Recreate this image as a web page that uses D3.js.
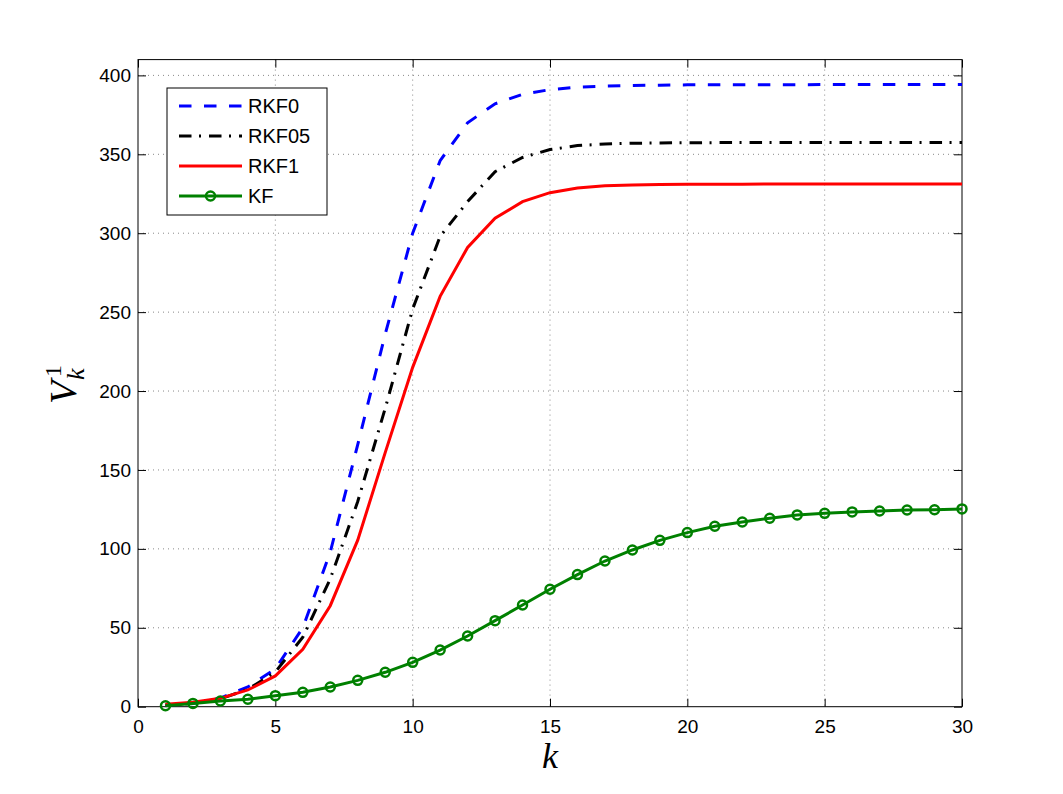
<!DOCTYPE html>
<html>
<head>
<meta charset="utf-8">
<script src="https://cdnjs.cloudflare.com/ajax/libs/d3/7.8.5/d3.min.js"></script>
<style>
  body { margin: 0; background: #fff; }
  svg { display: block; }
  .tick-label { font-family: "Liberation Sans", Arial, sans-serif; font-size: 19px; fill: #000; }
  .legend-text { font-family: "Liberation Sans", Arial, sans-serif; font-size: 20px; fill: #000; }
</style>
</head>
<body>
<svg id="chart"></svg>
<script>
// data
var steps = d3.range(1, 31);
var rkf0 = [1, 2, 5.5, 12.5, 24, 50, 98, 166, 236, 300, 346, 370, 382, 388, 391,
            392.5, 393.2, 393.6, 393.8, 394, 394, 394, 394.1, 394.1, 394.2, 394.2, 394.2, 394.2, 394.2, 394.2];
var rkf05 = [1, 2, 5, 11, 22, 44, 81, 130, 189, 252, 298, 320, 339, 348, 353,
             355.5, 356.5, 357, 357.2, 357.3, 357.4, 357.4, 357.4, 357.4, 357.4, 357.4, 357.4, 357.4, 357.4, 357.4];
var rkf1 = [1.5, 2.8, 5.3, 10.6, 19.5, 36.4, 64, 105.5, 161, 215, 260, 291, 309.5, 320, 325.7,
            328.7, 330, 330.6, 330.9, 331, 331.1, 331.1, 331.2, 331.2, 331.2, 331.2, 331.2, 331.2, 331.2, 331.2];
var kf = [0.6, 2.1, 3.6, 4.7, 7, 9.1, 12.5, 16.7, 21.8, 28.1, 35.9, 44.8, 54.5, 64.4, 74.4,
          83.7, 92.3, 99.3, 105.4, 110.3, 114.3, 117, 119.4, 121.5, 122.5, 123.4, 124, 124.6, 124.8, 125.3];
var seriesNames = ["RKF0", "RKF05", "RKF1", "KF"];
var xTicks = [0, 5, 10, 15, 20, 25, 30];
var yTicks = [0, 50, 100, 150, 200, 250, 300, 350, 400];

var W = 1063, H = 794;
var margin = { top: 59.6, right: 101, bottom: 87.3, left: 138 };
var width = W - margin.left - margin.right;
var height = H - margin.top - margin.bottom;

var svg = d3.select("#chart").attr("width", W).attr("height", H);
var g = svg.append("g").attr("transform", "translate(" + margin.left + "," + margin.top + ")");

var x = d3.scaleLinear().domain([0, 30]).range([0, width]);
var y = d3.scaleLinear().domain([0, 410]).range([height, 0]);

// dotted grid
g.selectAll(".gx").data(xTicks.slice(1, -1)).enter().append("line")
    .attr("x1", d => x(d)).attr("x2", d => x(d))
    .attr("y1", 0).attr("y2", height)
    .attr("stroke", "#888").attr("stroke-width", 1).attr("stroke-dasharray", "1,4");
g.selectAll(".gy").data(yTicks.slice(1)).enter().append("line")
    .attr("x1", 0).attr("x2", width)
    .attr("y1", d => y(d)).attr("y2", d => y(d))
    .attr("stroke", "#888").attr("stroke-width", 1).attr("stroke-dasharray", "1,4");

// box + inward ticks on all sides
var tickLen = 8;
function axisOn(gen, tx, ty) {
    var a = g.append("g").attr("transform", "translate(" + tx + "," + ty + ")").call(gen);
    a.select(".domain").remove();
    a.selectAll(".tick line").attr("stroke", "#000");
    return a;
}
var xb = axisOn(d3.axisBottom(x).tickValues(xTicks).tickSize(-tickLen).tickPadding(13), 0, height);
xb.selectAll("text").attr("class", "tick-label").attr("font-size", null).attr("font-family", null);
var yl = axisOn(d3.axisLeft(y).tickValues(yTicks).tickSize(-tickLen).tickPadding(7), 0, 0);
yl.selectAll("text").attr("class", "tick-label").attr("font-size", null).attr("font-family", null);
axisOn(d3.axisTop(x).tickValues(xTicks).tickSize(-tickLen).tickFormat(""), 0, 0);
axisOn(d3.axisRight(y).tickValues(yTicks).tickSize(-tickLen).tickFormat(""), width, 0);

g.append("rect").attr("width", width).attr("height", height)
    .attr("fill", "none").attr("stroke", "#000").attr("stroke-width", 1);

// series
var styles = [
    { vals: rkf0, color: "#0000ff", dash: "12.5,12.5" },
    { vals: rkf05, color: "#000000", dash: "12.5,7.5,2,8" },
    { vals: rkf1, color: "#ff0000", dash: null },
    { vals: kf, color: "#008000", dash: null, marker: true }
];

var line = d3.line().x(d => x(d[0])).y(d => y(d[1]));

styles.forEach(function (s) {
    var pts = steps.map((k, i) => [k, s.vals[i]]);
    g.append("path").datum(pts)
        .attr("d", line)
        .attr("fill", "none")
        .attr("stroke", s.color)
        .attr("stroke-width", 3)
        .attr("stroke-dasharray", s.dash);
    if (s.marker) {
        g.selectAll(".mk").data(pts).enter().append("circle")
            .attr("cx", d => x(d[0])).attr("cy", d => y(d[1]))
            .attr("r", 4.5)
            .attr("fill", "none").attr("stroke", s.color).attr("stroke-width", 2.5);
    }
});

// legend
var leg = svg.append("g").attr("transform", "translate(167,88)");
leg.append("rect").attr("width", 160).attr("height", 127)
    .attr("fill", "#fff").attr("stroke", "#000").attr("stroke-width", 1);
styles.forEach(function (s, i) {
    var ly = 18 + i * 30;
    leg.append("line").attr("x1", 12).attr("x2", 75).attr("y1", ly).attr("y2", ly)
        .attr("stroke", s.color).attr("stroke-width", 3)
        .attr("stroke-dasharray", s.dash);
    if (s.marker) {
        leg.append("circle").attr("cx", 43.5).attr("cy", ly).attr("r", 4.5)
            .attr("fill", "none").attr("stroke", s.color).attr("stroke-width", 2.5);
    }
    leg.append("text").attr("class", "legend-text")
        .attr("x", 81).attr("y", ly + 7).text(seriesNames[i]);
});

// axis labels
svg.append("text")
    .attr("x", margin.left + x(15)).attr("y", 768)
    .attr("text-anchor", "middle")
    .attr("font-family", "'Liberation Serif', 'DejaVu Serif', serif")
    .attr("font-style", "italic").attr("font-size", 36)
    .text("k");

var yLab = svg.append("g").attr("transform", "translate(76,404) rotate(-90)")
    .attr("font-family", "'Liberation Serif', 'DejaVu Serif', serif");
yLab.append("text").attr("x", 0).attr("y", 0)
    .attr("font-style", "italic").attr("font-size", 38).text("V");
yLab.append("text").attr("x", 27).attr("y", -15)
    .attr("font-size", 24).text("1");
yLab.append("text").attr("x", 24).attr("y", 8)
    .attr("font-style", "italic").attr("font-size", 26).text("k");
</script>
</body>
</html>
